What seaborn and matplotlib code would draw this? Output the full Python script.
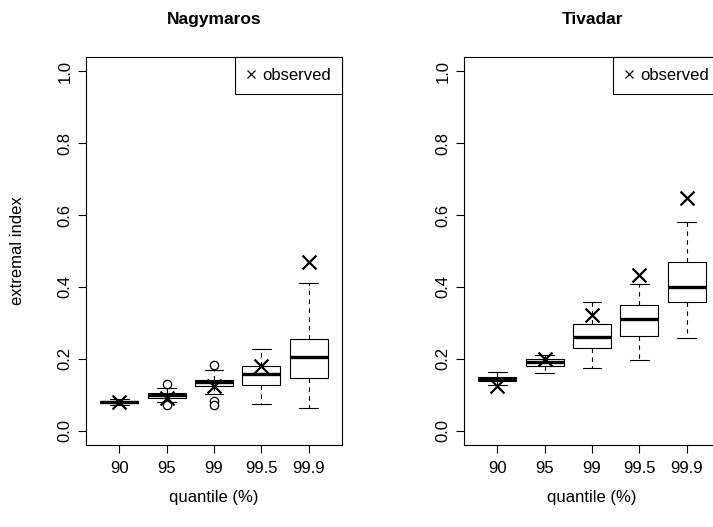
import numpy as np
import pandas as pd
import matplotlib
matplotlib.use("Agg")
import matplotlib.pyplot as plt
from matplotlib.lines import Line2D
import seaborn as sns

# ---------------- data ----------------
quantiles = ["90", "95", "99", "99.5", "99.9"]

nag_low = [0.072, 0.081, 0.102, 0.075, 0.063]
nag_q1 = [0.076, 0.091, 0.123, 0.126, 0.147]
nag_med = [0.080, 0.098, 0.135, 0.157, 0.204]
nag_q3 = [0.083, 0.104, 0.142, 0.181, 0.256]
nag_high = [0.088, 0.120, 0.169, 0.228, 0.412]
nag_obs = [0.080, 0.092, 0.123, 0.179, 0.468]
nag_out_q = ["95", "95", "99", "99", "99"]
nag_out_v = [0.130, 0.070, 0.183, 0.083, 0.072]

tiv_low = [0.128, 0.161, 0.173, 0.196, 0.258]
tiv_q1 = [0.138, 0.181, 0.230, 0.264, 0.357]
tiv_med = [0.144, 0.191, 0.261, 0.311, 0.399]
tiv_q3 = [0.150, 0.198, 0.296, 0.351, 0.470]
tiv_high = [0.162, 0.210, 0.358, 0.409, 0.581]
tiv_obs = [0.124, 0.198, 0.321, 0.433, 0.647]
tiv_out_q = []
tiv_out_v = []

titles = ["Nagymaros", "Tivadar"]
y_ticks = [0.0, 0.2, 0.4, 0.6, 0.8, 1.0]


def summary_frame(low, q1, med, q3, high):
    rows = []
    for q, a, b, c, d, e in zip(quantiles, low, q1, med, q3, high):
        for v in (a, b, c, d, e):
            rows.append({"quantile": q, "value": v})
    return pd.DataFrame(rows)


panels = [
    (summary_frame(nag_low, nag_q1, nag_med, nag_q3, nag_high),
     pd.DataFrame({"quantile": quantiles, "value": nag_obs}),
     pd.DataFrame({"quantile": nag_out_q, "value": nag_out_v})),
    (summary_frame(tiv_low, tiv_q1, tiv_med, tiv_q3, tiv_high),
     pd.DataFrame({"quantile": quantiles, "value": tiv_obs}),
     pd.DataFrame({"quantile": tiv_out_q, "value": tiv_out_v})),
]

# ---------------- style ----------------
sns.set_style("white")
plt.rcParams["font.family"] = ["Liberation Sans", "DejaVu Sans"]
plt.rcParams["font.size"] = 12
for key in ["text.color", "axes.labelcolor", "xtick.color", "ytick.color",
            "axes.edgecolor"]:
    plt.rcParams[key] = "black"

W, H = 713, 527
fig = plt.figure(figsize=(W / 100, H / 100), dpi=100)
axes = [
    fig.add_axes([86 / W, 82 / H, 256 / W, 388 / H]),
    fig.add_axes([464 / W, 82 / H, 256 / W, 388 / H]),
]

for i, (ax, (box_df, obs_df, out_df)) in enumerate(zip(axes, panels)):
    sns.boxplot(
        data=box_df, x="quantile", y="value", order=quantiles,
        whis=np.inf, width=0.8, color="white", linecolor="black",
        linewidth=0.8, showfliers=False, saturation=1,
        medianprops={"linewidth": 2.4},
        whiskerprops={"linestyle": (0, (4, 4))},
        ax=ax,
    )
    if len(out_df):
        sns.stripplot(
            data=out_df, x="quantile", y="value", order=quantiles,
            jitter=False, marker="o", size=6, color="white",
            edgecolor="black", linewidth=0.9, zorder=3, ax=ax,
        )
    sns.stripplot(
        data=obs_df, x="quantile", y="value", order=quantiles,
        jitter=False, marker="x", size=10, color="black",
        linewidth=1.6, zorder=4, ax=ax,
    )

    ax.set_xlim(-0.7, 4.7)
    ax.set_ylim(-0.04, 1.04)
    ax.set_yticks(y_ticks)
    ax.set_yticklabels([f"{t:.1f}" for t in y_ticks], rotation=90, va="center")
    ax.set_xticks(range(len(quantiles)))
    ax.set_xticklabels(quantiles)
    ax.tick_params(direction="out", length=5.5, width=0.8, colors="black",
                   labelcolor="black", labelsize=12, left=True, bottom=True)
    ax.tick_params(axis="x", pad=6)
    ax.tick_params(axis="y", pad=4)
    for sp in ax.spines.values():
        sp.set_visible(True)
        sp.set_color("black")
        sp.set_linewidth(0.8)

    ax.set_title(titles[i], fontweight="bold", fontsize=12.5, pad=24,
                 color="black")
    ax.set_xlabel("quantile (%)", fontsize=12, color="black")
    ax.xaxis.set_label_coords(0.5, -0.115)
    if i == 0:
        ax.set_ylabel("extremal index", fontsize=12, color="black")
        ax.yaxis.set_label_coords(-0.238, 0.5)
    else:
        ax.set_ylabel("")

    handle = Line2D([], [], linestyle="none", marker="x", color="black",
                    markersize=5.5, markeredgewidth=0.9)
    leg = ax.legend([handle], ["observed"], loc="upper right",
                    frameon=True, fancybox=False, framealpha=1,
                    edgecolor="black", borderaxespad=0, borderpad=0.66,
                    handlelength=0.5, handletextpad=0.45, fontsize=12)
    leg.get_frame().set_linewidth(0.8)
    for t in leg.get_texts():
        t.set_color("black")

fig.savefig("out.png", dpi=100)
